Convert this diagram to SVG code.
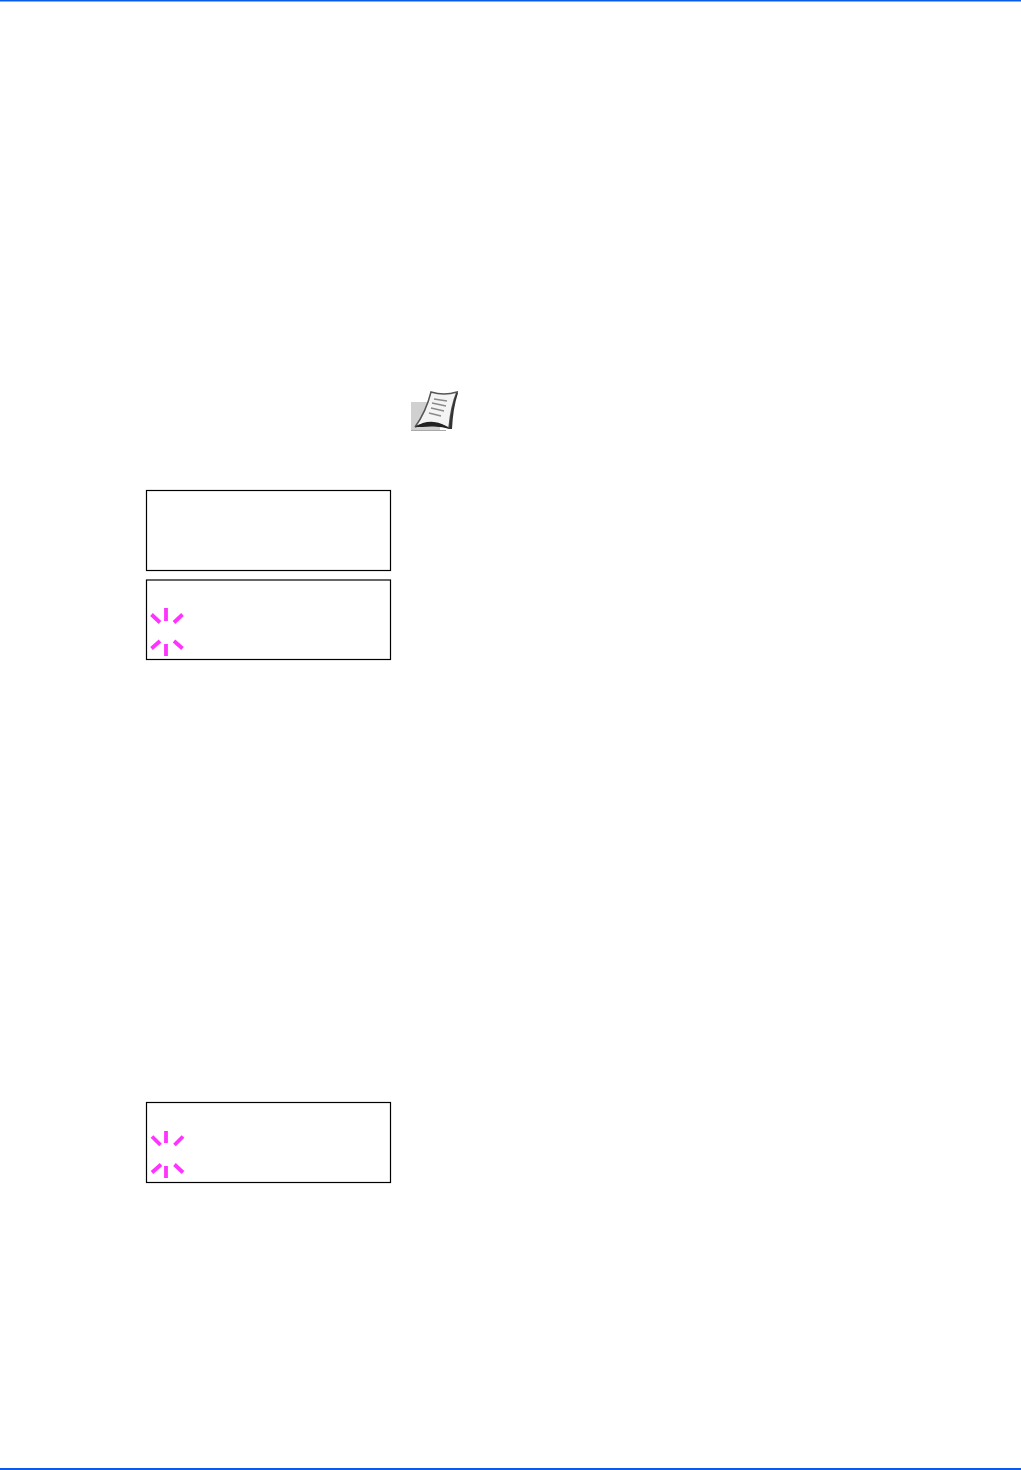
<svg xmlns="http://www.w3.org/2000/svg" width="1021" height="1470" viewBox="0 0 1021 1470">
<style>
.bar{fill:#0a5ce6}
.box{fill:#fff;stroke:#000;stroke-width:1.2}
.tick{stroke:#ff33ff;stroke-width:3.8;fill:none}
</style>
<rect width="1021" height="1470" fill="#fff"/>
<rect class="bar" x="0" y="0" width="1021" height="1.5"/>
<rect class="bar" x="0" y="1468" width="1021" height="2"/>
<g id="note-icon">
<path d="M411 402H440V431H411Z" fill="#d0d0d0"/>
<path d="M411 430.500H446" stroke="#a8a8a8" stroke-width="1" fill="none"/>
<path d="M431 392Q444 396 457 392Q451 406 449 428Q440 424 430 424Q421 424 415 427Q426 412 431 392Z" fill="#f4f4f4" stroke="#555" stroke-width="1.500"/>
<path d="M457 392Q451 406 449 429L452 429Q453 408 458 393Z" fill="#333"/>
<path d="M415 427Q424 421 434 422Q443 423 450 429Q441 426 431 426.500Q422 427 415 427Z" fill="#222"/>
<path d="M434 399L447 401M432 403L446 406M431 408L444 411M429 413L441 416" stroke="#8a8a8a" stroke-width="1.300" fill="none"/>
</g>
<g id="display-1"><rect class="box" x="146.500" y="490.500" width="244" height="80"/></g>
<g id="display-2"><rect class="box" x="146.500" y="580" width="244" height="79.500"/>
<path class="tick" d="M166 608V621M151.500 614.500L160 622.500M182.500 614.500L174 622.500M151.500 648.500L160 641M182.500 648.500L174 641M166 644V656"/></g>
<g id="display-3"><rect class="box" x="146.500" y="1102.500" width="244" height="80"/>
<path class="tick" d="M166 1131V1143M152 1136.500L160.500 1145M183 1136.500L174.500 1145M152 1172.500L161 1164.500M183 1172.500L174.500 1164.500M166 1166V1178"/></g>
</svg>
